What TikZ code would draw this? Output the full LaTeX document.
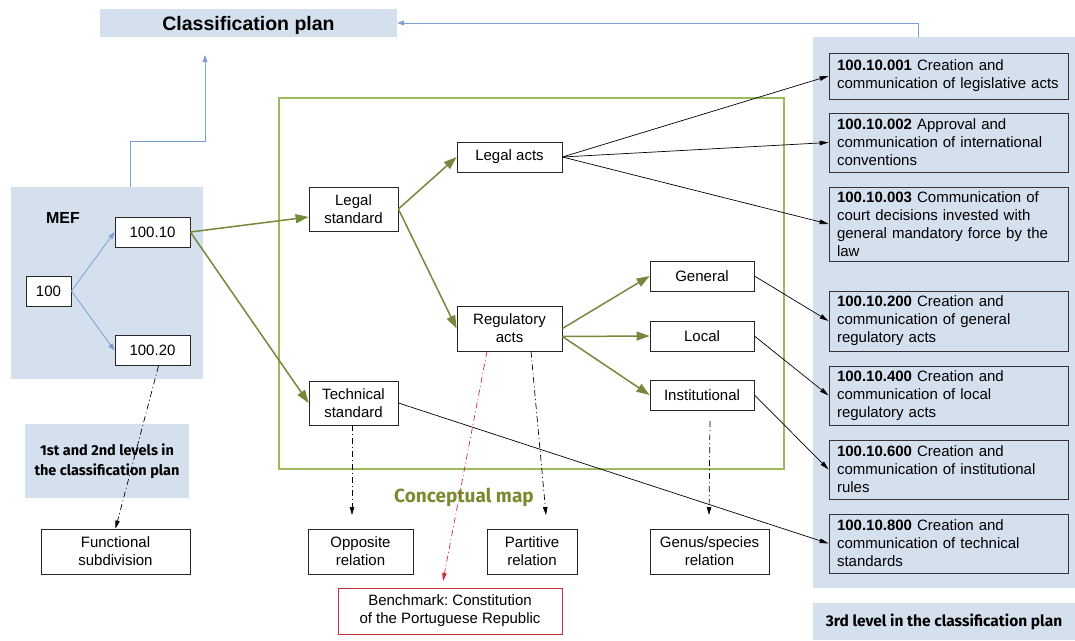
\documentclass[tikz,border=0pt]{standalone}
\usepackage{fontspec}
\setmainfont{Liberation Sans}
\newfontfamily\humfont{Fira Sans}
\usetikzlibrary{arrows.meta,calc}
\definecolor{bfill}{HTML}{D5E0EF}
\definecolor{bline}{HTML}{7B9FD0}
\definecolor{gframe}{HTML}{9DBA5A}
\definecolor{garrow}{HTML}{76883B}
\definecolor{gtext}{HTML}{7A8A2F}
\definecolor{rline}{HTML}{C62F3A}
\frenchspacing
\begin{document}
\begin{tikzpicture}[x=1pt,y=-1pt,
  every node/.style={font=\fontsize{15}{18}\selectfont, inner sep=0pt},
  bx/.style={draw=black!85, line width=0.8pt, fill=white, align=center},
  rbox/.style={draw=black!80, line width=0.8pt, fill=bfill, align=left, text width=223pt, inner xsep=8pt, minimum width=239pt},
  bg/.style={fill=bfill, draw=none},
  hum/.style={font=\humfont\bfseries\fontsize{14.5}{20}\selectfont, align=center},
  barr/.style={draw=bline, line width=0.8pt, -{Triangle[length=7pt,width=5pt]}},
  garr/.style={draw=garrow, line width=1.5pt, -{Triangle[length=13pt,width=9pt]}},
  karr/.style={draw=black, line width=0.7pt, -{Triangle[length=9pt,width=4.5pt]}},
  ddarr/.style={draw=black, line width=0.7pt, dash pattern=on 6pt off 3pt on 1pt off 3pt, -{Triangle[length=8pt,width=4.5pt]}},
  rdarr/.style={ddarr, draw=rline},
]
\useasboundingbox (0,0) rectangle (1075,640);
% backgrounds
\node[bg, minimum width=297pt, minimum height=28pt] (title) at (248.5,23) {\fontsize{19.5}{22}\selectfont\bfseries\raisebox{-2.5pt}[\height][\depth]{Classification plan}};
\node[bg, minimum width=192pt, minimum height=192pt] (mef) at (107,283) {};
\node[font=\fontsize{16}{18}\selectfont\bfseries] (meflbl) at (63,218) {MEF};
\node[bg, hum, minimum width=164pt, minimum height=74pt] (lvl12) at (107,461) {1st and 2nd levels in\\the classification plan};
\node[bg, minimum width=262pt, minimum height=551pt] (rcol) at (944,312.5) {};
\node[bg, hum, font=\humfont\bfseries\fontsize{15.5}{20}\selectfont, minimum width=262pt, minimum height=37pt] (lvl3) at (944,621.5) {3rd level in the classification plan};
\draw[gframe, line width=1.3pt] (279,98) rectangle (784,469);
\node[font=\humfont\bfseries\fontsize{19}{22}\selectfont, text=gtext] (cmap) at (464,497) {Conceptual map};
% left boxes
\node[bx, minimum width=45pt, minimum height=30pt] (n100) at (48.5,291) {100};
\node[bx, minimum width=75pt, minimum height=30pt] (n10) at (152.5,232) {100.10};
\node[bx, minimum width=75pt, minimum height=30pt] (n20) at (152.5,350.5) {100.20};
\node[bx, minimum width=149pt, minimum height=45pt] (func) at (115.5,551.5) {Functional\\subdivision};
% concept map
\node[bx, minimum width=89pt, minimum height=44pt] (ls) at (353.5,209) {Legal\\standard};
\node[bx, minimum width=105pt, minimum height=30pt] (la) at (509.5,157) {Legal acts};
\node[bx, minimum width=105pt, minimum height=45pt] (ra) at (509.5,328.5) {Regulatory\\acts};
\node[bx, minimum width=104pt, minimum height=30pt] (gen) at (702,276) {General};
\node[bx, minimum width=104pt, minimum height=30pt] (loc) at (702,336) {Local};
\node[bx, minimum width=104pt, minimum height=30pt] (inst) at (702,395) {Institutional};
\node[bx, minimum width=89pt, minimum height=44pt] (tech) at (353.5,403) {Technical\\standard};
\node[bx, minimum width=105pt, minimum height=45pt] (opp) at (360.5,551.5) {Opposite\\relation};
\node[bx, minimum width=90pt, minimum height=45pt] (part) at (532,551.5) {Partitive\\relation};
\node[bx, minimum width=119pt, minimum height=45pt] (genus) at (709.5,551.5) {Genus/species\\relation};
\node[bx, draw=rline, minimum width=224pt, minimum height=46pt] (bench) at (450,611) {Benchmark: Constitution\\of the Portuguese Republic};
% right boxes
\node[rbox, minimum height=46pt] (r1) at (948.5,76) {\textbf{100.10.001} Creation and\\communication of legislative acts};
\node[rbox, minimum height=59pt] (r2) at (948.5,142.5) {\textbf{100.10.002} Approval and\\communication of international\\conventions};
\node[rbox, minimum height=74pt] (r3) at (948.5,224) {\textbf{100.10.003} Communication of\\court decisions invested with\\general mandatory force by the\\law};
\node[rbox, minimum height=60pt] (r4) at (948.5,321) {\textbf{100.10.200} Creation and\\communication of general\\regulatory acts};
\node[rbox, minimum height=59pt] (r5) at (948.5,395.5) {\textbf{100.10.400} Creation and\\communication of local\\regulatory acts};
\node[rbox, minimum height=59pt] (r6) at (948.5,469.5) {\textbf{100.10.600} Creation and\\communication of institutional\\rules};
\node[rbox, minimum height=59pt] (r7) at (948.5,543.5) {\textbf{100.10.800} Creation and\\communication of technical\\standards};
% free ends
\coordinate (cpin) at (205,55);
\coordinate (oppin) at (352,515);
\coordinate (partin) at (546,515);
\coordinate (instout) at (710,421);
\coordinate (genusin) at (709,515);
\coordinate (benchin) at (443,581);
% blue connectors
\draw[barr] ([xshift=23pt]mef.north) -- ++(0,-45) -| (cpin);
\draw[barr] ([xshift=-26pt]rcol.north) |- (title.east);
\draw[barr] (n100.east) -- (n10.west);
\draw[barr] (n100.east) -- (n20.west);
% green connectors
\draw[garr] (n10.east) -- ([yshift=-8pt]ls.west);
\draw[garr] (n10.east) -- (tech.west);
\draw[garr] (ls.east) -- (la.west);
\draw[garr] (ls.east) -- (ra.west);
\draw[garr] (ra.east) -- (gen.west);
\draw[garr] ([yshift=-8pt]ra.east) -- (loc.west);
\draw[garr] ([yshift=-8pt]ra.east) -- (inst.west);
% black connectors
\draw[karr] (la.east) -- (r1.west);
\draw[karr] (la.east) -- (r2.west);
\draw[karr] (la.east) -- (r3.west);
\draw[karr] (gen.east) -- (r4.west);
\draw[karr] (loc.east) -- (r5.west);
\draw[karr] (inst.east) -- (r6.west);
\draw[karr] (tech.east) -- (r7.west);
% dash-dot
\draw[ddarr] ([xshift=6pt]n20.south) -- (func.north);
\draw[ddarr] ([xshift=-1.5pt]tech.south) -- (oppin);
\draw[ddarr] ([xshift=21.5pt]ra.south) -- (partin);
\draw[ddarr] (instout) -- (genusin);
\draw[rdarr] ([xshift=-22.5pt]ra.south) -- (benchin);
\end{tikzpicture}
\end{document}
